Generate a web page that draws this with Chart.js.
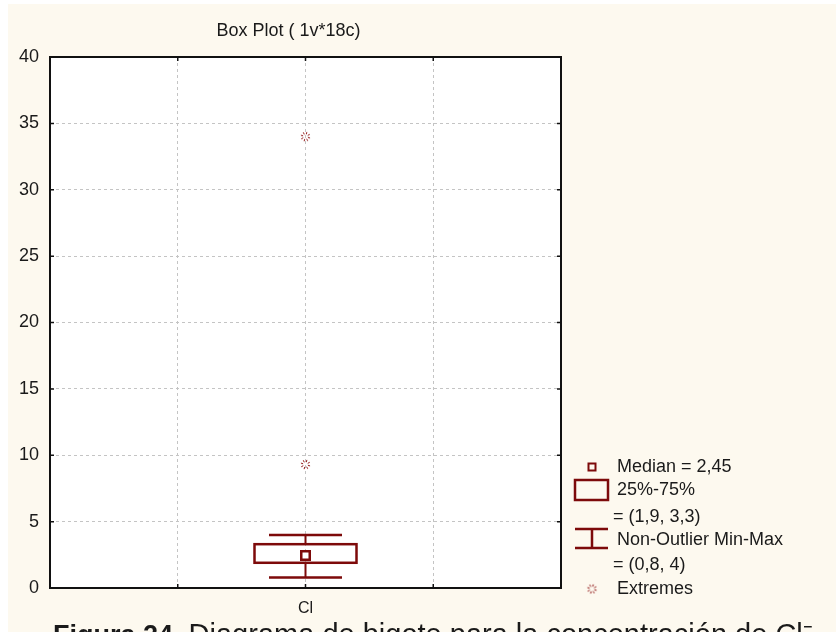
<!DOCTYPE html>
<html>
<head>
<meta charset="utf-8">
<script src="https://cdn.jsdelivr.net/npm/chart.js@4"></script>
<style>
  html, body { margin: 0; padding: 0; background: #fff; overflow: hidden; }
  #panel { position: absolute; left: 8px; top: 4px; width: 828px; height: 628px; background: #fdf9ef; overflow: hidden; }
  #wrap { position: absolute; left: 0; top: 0; width: 828px; height: 628px; }
  #caption { position: absolute; left: 45px; top: 616px; white-space: nowrap; z-index: 2;
    font-family: "Liberation Sans", Arial, sans-serif; font-size: 29px; line-height: 29px; color: #1a1a1a; }
  #caption b { font-size: 27px; }
</style>
</head>
<body>
<div id="panel">
  <div id="wrap"><canvas id="myChart"></canvas></div>
  <div id="caption"><b>Figura 24.</b> Diagrama de bigote para la concentración de Cl⁻</div>
</div>
<script>
// 📊 Data (one variable, 18 cases)
const categories = ['Cl'];
const medians = [2.45];
const q1s = [1.9];
const q3s = [3.3];
const whiskerLo = [0.8];
const whiskerHi = [4];
const extremes = [[9.3, 34]];
const yMin = 0, yMax = 40, yStep = 5;

const dark = '#7d0a0a';
const ink = '#1a1a1a';
const font = '"Liberation Sans", Arial, sans-serif';

function fmt(v) { return String(v).replace('.', ','); }

// ✳️ little dotted star used for extremes
function makeStar() {
    const c = document.createElement('canvas');
    c.width = 13; c.height = 13;
    const g = c.getContext('2d');
    g.strokeStyle = '#8e1212';
    g.lineWidth = 1;
    for (let i = 0; i < 8; i++) {
        const a = i * Math.PI / 4 + 0.3;
        g.beginPath();
        g.moveTo(6.5 + Math.cos(a) * 2.5, 6.5 + Math.sin(a) * 2.5);
        g.lineTo(6.5 + Math.cos(a) * 4.8, 6.5 + Math.sin(a) * 4.8);
        g.stroke();
    }
    return c;
}
const star = makeStar();

// 📦 boxes, whiskers, frame and legend
const boxPlugin = {
    id: 'boxes',
    beforeDraw(chart) {
        const {ctx, chartArea: a} = chart;
        ctx.save();
        ctx.fillStyle = '#fff';
        ctx.fillRect(a.left, a.top, a.right - a.left, a.bottom - a.top);
        ctx.restore();
    },
    beforeDatasetsDraw(chart) {
        const {ctx, scales: {x, y}} = chart;
        ctx.save();
        ctx.strokeStyle = dark;
        categories.forEach((c, i) => {
            const cx = x.getPixelForValue(i);
            const top = y.getPixelForValue(q3s[i]), bot = y.getPixelForValue(q1s[i]);
            const hi = y.getPixelForValue(whiskerHi[i]), lo = y.getPixelForValue(whiskerLo[i]);
            ctx.lineWidth = 2;
            ctx.beginPath();
            ctx.moveTo(cx, top); ctx.lineTo(cx, hi);
            ctx.moveTo(cx, bot); ctx.lineTo(cx, lo);
            ctx.stroke();
            ctx.lineWidth = 2.5;
            ctx.beginPath();
            ctx.moveTo(cx - 36.5, hi); ctx.lineTo(cx + 36.5, hi);
            ctx.moveTo(cx - 36.5, lo); ctx.lineTo(cx + 36.5, lo);
            ctx.stroke();
            ctx.strokeRect(cx - 51, top, 102, bot - top);
        });
        ctx.restore();
    },
    afterDraw(chart) {
        const {ctx, chartArea: a, scales: {x, y}} = chart;
        ctx.save();
        // frame with inward ticks
        ctx.strokeStyle = '#111';
        ctx.lineWidth = 2;
        ctx.strokeRect(a.left, a.top, a.right - a.left, a.bottom - a.top);
        ctx.lineWidth = 1.5;
        ctx.beginPath();
        y.ticks.forEach(t => {
            const py = y.getPixelForValue(t.value);
            ctx.moveTo(a.left, py); ctx.lineTo(a.left + 4, py);
            ctx.moveTo(a.right, py); ctx.lineTo(a.right - 4, py);
        });
        x.ticks.forEach(t => {
            const px = x.getPixelForValue(t.value);
            ctx.moveTo(px, a.top); ctx.lineTo(px, a.top + 4);
            ctx.moveTo(px, a.bottom); ctx.lineTo(px, a.bottom - 4);
        });
        ctx.stroke();

        // legend
        const r = a.right, b = a.bottom;
        ctx.strokeStyle = dark;
        ctx.lineWidth = 2;
        ctx.strokeRect(r + 27.5, b - 124.5, 7, 7);
        ctx.lineWidth = 2.5;
        ctx.strokeRect(r + 14, b - 108, 33, 20);
        ctx.beginPath();
        ctx.moveTo(r + 14, b - 59); ctx.lineTo(r + 47, b - 59);
        ctx.moveTo(r + 14, b - 40); ctx.lineTo(r + 47, b - 40);
        ctx.moveTo(r + 31, b - 59); ctx.lineTo(r + 31, b - 40);
        ctx.stroke();
        ctx.drawImage(star, r + 31 - 6.5, b + 1 - 6.5);

        ctx.fillStyle = ink;
        ctx.font = '18px ' + font;
        ctx.textBaseline = 'middle';
        ctx.textAlign = 'left';
        ctx.fillText('Median = ' + fmt(medians[0]), r + 56, b - 121);
        ctx.fillText('25%-75%', r + 56, b - 98);
        ctx.fillText('= (' + fmt(q1s[0]) + ', ' + fmt(q3s[0]) + ')', r + 52, b - 71);
        ctx.fillText('Non-Outlier Min-Max', r + 56, b - 48);
        ctx.fillText('= (' + fmt(whiskerLo[0]) + ', ' + fmt(whiskerHi[0]) + ')', r + 52, b - 23);
        ctx.fillText('Extremes', r + 56, b + 1);
        ctx.restore();
    }
};

const ctx = document.getElementById('myChart').getContext('2d');
const myChart = new Chart(ctx, {
    type: 'scatter',
    data: {
        datasets: [
            {
                label: 'Extremes',
                data: categories.flatMap((c, i) => extremes[i].map(v => ({ x: i, y: v }))),
                pointStyle: star,
                pointRadius: 6
            },
            {
                label: 'Median',
                data: categories.map((c, i) => ({ x: i, y: medians[i] })),
                pointStyle: 'rect',
                pointRadius: 6,
                pointBorderColor: dark,
                pointBackgroundColor: '#fff',
                pointBorderWidth: 2.5
            }
        ]
    },
    options: {
        responsive: true,
        maintainAspectRatio: false,
        animation: false,
        layout: { padding: { left: 8, right: 275, top: 0, bottom: 16 } },
        plugins: {
            legend: { display: false },
            tooltip: { enabled: false },
            title: {
                display: true,
                text: 'Box Plot ( 1v*18c)',
                color: ink,
                font: { family: font, size: 18, weight: 'normal' },
                padding: { top: 16.4, bottom: 15 }
            }
        },
        scales: {
            x: {
                type: 'linear', min: -2, max: 2,
                afterFit(s) { s.height = 28; },
                grid: { color: '#c4c4c4', drawTicks: false },
                border: { display: false, dash: [3, 3] },
                ticks: {
                    stepSize: 1, padding: 11, color: ink, maxRotation: 0, autoSkip: false,
                    font: { family: font, size: 16 },
                    callback: v => categories[v] ?? ''
                }
            },
            y: {
                min: yMin, max: yMax,
                afterFit(s) { s.width = 34; },
                grid: { color: '#c4c4c4', drawTicks: false },
                border: { display: false, dash: [3, 3] },
                ticks: { stepSize: yStep, padding: 11, color: ink, font: { family: font, size: 18 } }
            }
        }
    },
    plugins: [boxPlugin]
});
</script>
</body>
</html>
